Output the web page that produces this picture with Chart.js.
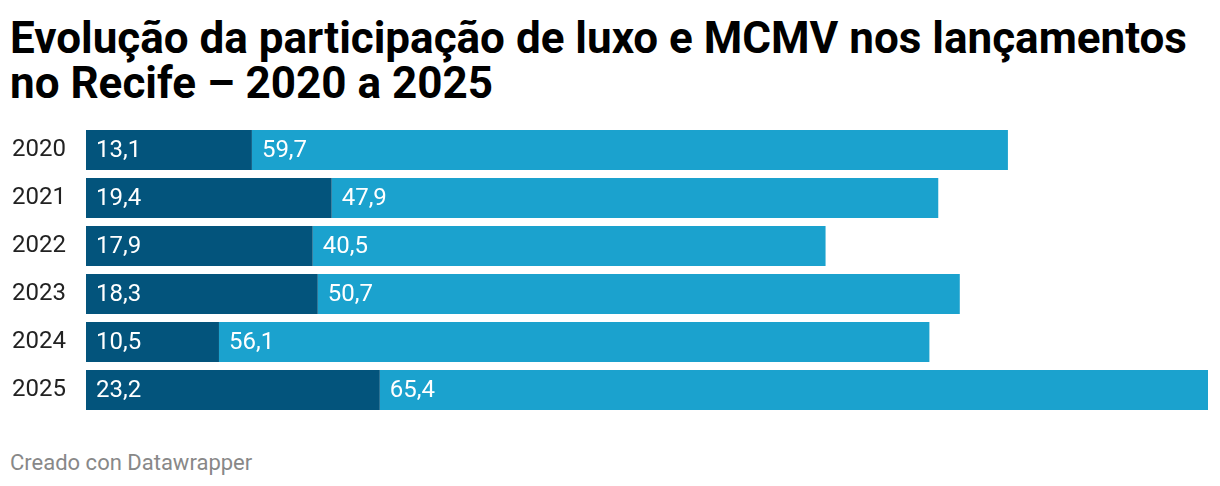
<!DOCTYPE html>
<html>
<head>
<meta charset="utf-8">
<script src="https://cdn.jsdelivr.net/npm/chart.js@4/dist/chart.umd.min.js"></script>
<style>
  body { margin: 0; background: #fff; font-family: Roboto, sans-serif; }
  #wrap { position: relative; width: 1220px; height: 486px; overflow: hidden; }
  h1 { position: absolute; left: 10px; top: 16px; margin: 0; font-size: 44px; line-height: 45px; font-weight: 700; color: #000; white-space: nowrap; }
  #chart { position: absolute; left: 0; top: 126px; }
  #foot { position: absolute; left: 10px; top: 450px; font-size: 22px; color: #888; }
</style>
</head>
<body>
<div id="wrap">
  <h1>Evolução da participação de luxo e MCMV nos lançamentos<br>no Recife – 2020 a 2025</h1>
  <canvas id="chart" width="1220" height="288"></canvas>
  <div id="foot">Creado con Datawrapper</div>
</div>
<script>
const years = ["2020","2021","2022","2023","2024","2025"];
const luxo = [13.1, 19.4, 17.9, 18.3, 10.5, 23.2];
const mcmv = [59.7, 47.9, 40.5, 50.7, 56.1, 65.4];

const fmt = v => v.toFixed(1).replace(".", ",");

// white value labels at the left edge of each segment
const valueLabels = {
  id: "valueLabels",
  afterDatasetsDraw(chart){
    const ctx = chart.ctx;
    ctx.save();
    ctx.font = "24px Roboto";
    ctx.fillStyle = "#fff";
    ctx.textAlign = "left";
    ctx.textBaseline = "middle";
    chart.data.datasets.forEach((ds, i) => {
      chart.getDatasetMeta(i).data.forEach((bar, j) => {
        ctx.fillText(fmt(ds.data[j]), bar.base + 10, bar.y + 1);
      });
    });
    ctx.restore();
  }
};

new Chart(document.getElementById("chart"), {
  type: "bar",
  data: {
    labels: years,
    datasets: [
      { label: "Luxo", data: luxo, backgroundColor: "#03547c" },
      { label: "MCMV", data: mcmv, backgroundColor: "#1ba2ce" }
    ]
  },
  options: {
    indexAxis: "y",
    responsive: false,
    animation: false,
    layout: { padding: { left: 12, right: 12, top: 0, bottom: 0 } },
    datasets: { bar: { categoryPercentage: 40/48, barPercentage: 1, borderWidth: 0 } },
    plugins: { legend: { display: false }, tooltip: { enabled: false } },
    scales: {
      x: { stacked: true, min: 0, max: 88.6, display: false },
      y: {
        stacked: true,
        grid: { display: false },
        border: { display: false },
        ticks: { crossAlign: "far", color: "#222", font: { family: "Roboto", size: 24 }, padding: 0 },
        afterFit(scale){
          scale.width = 74;
          scale.paddingTop = 0;
          scale.paddingBottom = 0;
        }
      }
    }
  },
  plugins: [valueLabels]
});
</script>
</body>
</html>
